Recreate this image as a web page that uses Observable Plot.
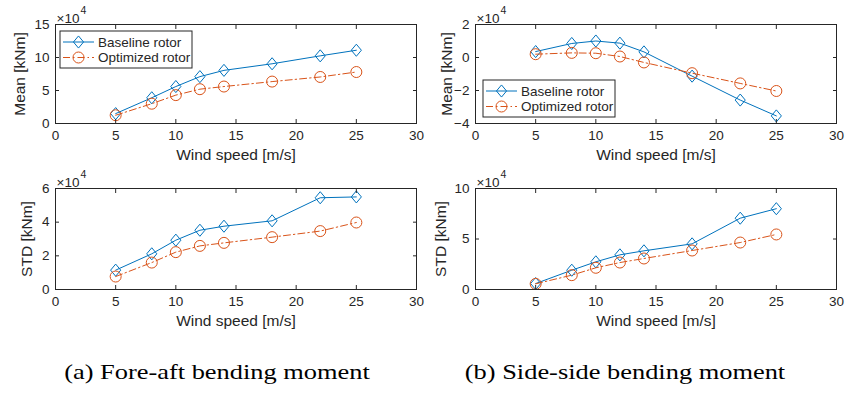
<!DOCTYPE html>
<html><head><meta charset="utf-8">
<script src="https://cdn.jsdelivr.net/npm/d3@7"></script>
<script src="https://cdn.jsdelivr.net/npm/@observablehq/plot@0.6"></script>
<style>
body{margin:0;background:#fff;}
#root{position:relative;width:847px;height:393px;overflow:hidden;background:#fff;}
.caption{position:absolute;top:359px;font-family:"Liberation Serif","DejaVu Serif",serif;font-size:22px;color:#000;white-space:nowrap;transform:translateX(-50%) scaleX(1.2);transform-origin:50% 50%;}
</style></head><body><div id="root"></div>
<script>
// ---- data (values in units of 10^4 kNm) ----
const windSpeed = [5, 8, 10, 12, 14, 18, 22, 25];
const faMeanBaseline  = [1.5, 3.9, 5.6, 7.1, 8.05, 9.05, 10.25, 11.1];
const faMeanOptimized = [1.25, 3.0, 4.3, 5.2, 5.6, 6.35, 7.05, 7.8];
const ssMeanBaseline  = [0.36, 0.85, 1.0, 0.87, 0.34, -1.13, -2.58, -3.54];
const ssMeanOptimized = [0.2, 0.28, 0.26, 0.06, -0.3, -0.95, -1.57, -2.03];
const faStdBaseline   = [1.15, 2.12, 2.93, 3.52, 3.76, 4.08, 5.45, 5.5];
const faStdOptimized  = [0.77, 1.6, 2.22, 2.59, 2.77, 3.11, 3.47, 3.98];
const ssStdBaseline   = [0.59, 1.91, 2.74, 3.43, 3.83, 4.52, 7.06, 8.0];
const ssStdOptimized  = [0.56, 1.42, 2.15, 2.67, 3.07, 3.86, 4.65, 5.45];
const seriesNames = ["Baseline rotor", "Optimized rotor"];
const xTicks = [0, 5, 10, 15, 20, 25, 30];
const yTicksFaMean = [0, 5, 10, 15];
const yTicksSsMean = [-4, -2, 0, 2];
const yTicksFaStd = [0, 2, 4, 6];
const yTicksSsStd = [0, 5, 10];
const xLabel = "Wind speed [m/s]";
const yLabels = ["Mean [kNm]", "STD [kNm]"];
const exponentLabel = ["×10", "4"];
const captions = ["(a) Fore-aft bending moment", "(b) Side-side bending moment"];

// ---- styling ----
const BLUE = "#0072BD", ORANGE = "#D95319", INK = "#262626";
const FONT = "'Liberation Sans', Arial, Helvetica, sans-serif";
const DASHDOT = "7,3,1.5,3";
const diamond = {
  draw(ctx, size) {
    const r = Math.sqrt(size / Math.PI);
    const w = r * 0.92, h = r * 1.1;
    ctx.moveTo(0, -h); ctx.lineTo(w, 0); ctx.lineTo(0, h); ctx.lineTo(-w, 0); ctx.closePath();
  }
};

const root = document.getElementById("root");

function rows(arr) { return windSpeed.map((w, i) => ({w, v: arr[i]})); }

function panel({left, top, width, height, mt, fh, yDomain, yTicks, yLabel, labelDx, base, opt, legend}) {
  const b = rows(base), o = rows(opt);
  const svg = Plot.plot({
    width, height,
    marginLeft: 55, marginRight: width - 55 - 361, marginTop: mt, marginBottom: height - mt - fh,
    style: {fontFamily: FONT, color: INK, background: "transparent", overflow: "visible"},
    x: {domain: [0, 30]},
    y: {domain: yDomain},
    marks: [
      Plot.line(b, {x: "w", y: "v", stroke: BLUE, strokeWidth: 1}),
      Plot.dot(b, {x: "w", y: "v", stroke: BLUE, fill: "none", symbol: diamond, r: 5.5, strokeWidth: 1}),
      Plot.line(o, {x: "w", y: "v", stroke: ORANGE, strokeWidth: 1, strokeDasharray: DASHDOT}),
      Plot.dot(o, {x: "w", y: "v", stroke: ORANGE, fill: "none", symbol: "circle", r: 5.5, strokeWidth: 1}),
      Plot.axisX(xTicks, {anchor: "bottom", tickSize: -4, tickPadding: 11, fontSize: 13.5, label: null, stroke: INK}),
      Plot.axisX(xTicks, {anchor: "top", tickSize: -4, tickFormat: () => "", label: null, stroke: INK}),
      Plot.axisY(yTicks, {anchor: "left", tickSize: -4, tickPadding: 10, fontSize: 13.5, label: null, stroke: INK}),
      Plot.axisY(yTicks, {anchor: "right", tickSize: -4, tickFormat: () => "", label: null, stroke: INK}),
      Plot.frame({stroke: INK, strokeWidth: 1}),
      Plot.text([xLabel], {frameAnchor: "bottom", dy: 36, fontSize: 15.5, fill: INK}),
      Plot.text([yLabel], {frameAnchor: "left", dx: labelDx, rotate: -90, textAnchor: "middle", fontSize: 15.5, fill: INK}),
      Plot.text([exponentLabel[0]], {frameAnchor: "top-left", dy: -11, dx: 1, textAnchor: "start", fontSize: 13.5, fill: INK}),
      Plot.text([exponentLabel[1]], {frameAnchor: "top-left", dy: -18, dx: 25, textAnchor: "start", fontSize: 10.5, fill: INK})
    ]
  });
  svg.style.position = "absolute";
  svg.style.left = left + "px";
  svg.style.top = top + "px";
  root.appendChild(svg);
  if (legend) drawLegend(d3.select(svg), legend[0], legend[1]);
}

function drawLegend(sel, x0, y0) {
  const g = sel.append("g").attr("font-family", FONT).attr("font-size", 13.5).attr("text-anchor", "start");
  g.append("rect").attr("x", x0).attr("y", y0).attr("width", 132).attr("height", 37)
    .attr("fill", "#fff").attr("stroke", INK).attr("stroke-width", 1);
  const specs = [
    {name: seriesNames[0], color: BLUE, dash: "none", sym: d3.symbol(diamond, Math.PI * 5.5 * 5.5)},
    {name: seriesNames[1], color: ORANGE, dash: DASHDOT, sym: d3.symbol(d3.symbolCircle, Math.PI * 5.5 * 5.5)}
  ];
  specs.forEach((s, i) => {
    const y = y0 + 11 + i * 15.5;
    g.append("line").attr("x1", x0 + 3).attr("x2", x0 + 34).attr("y1", y).attr("y2", y)
      .attr("stroke", s.color).attr("stroke-width", 1).attr("stroke-dasharray", s.dash).attr("fill", "none");
    g.append("path").attr("d", s.sym()).attr("transform", `translate(${x0 + 18.5},${y})`)
      .attr("fill", "none").attr("stroke", s.color).attr("stroke-width", 1);
    g.append("text").attr("x", x0 + 38).attr("y", y).attr("dy", "0.35em").attr("fill", INK).text(s.name);
  });
}

panel({left: 0, top: 0, width: 420, height: 165, mt: 24, fh: 99, yDomain: [0, 15], yTicks: yTicksFaMean, yLabel: yLabels[0], labelDx: -35, base: faMeanBaseline, opt: faMeanOptimized, legend: [60, 31]});
panel({left: 420, top: 0, width: 425, height: 165, mt: 24, fh: 99, yDomain: [-4, 2], yTicks: yTicksSsMean, yLabel: yLabels[0], labelDx: -28, base: ssMeanBaseline, opt: ssMeanOptimized, legend: [63, 80]});
panel({left: 0, top: 165, width: 420, height: 165, mt: 23, fh: 101, yDomain: [0, 6], yTicks: yTicksFaStd, yLabel: yLabels[1], labelDx: -28, base: faStdBaseline, opt: faStdOptimized});
panel({left: 420, top: 165, width: 425, height: 165, mt: 23, fh: 101, yDomain: [0, 10], yTicks: yTicksSsStd, yLabel: yLabels[1], labelDx: -34, base: ssStdBaseline, opt: ssStdOptimized});

[[217, captions[0]], [625, captions[1]]].forEach(([cx, t]) => {
  const d = document.createElement("div");
  d.className = "caption";
  d.style.left = cx + "px";
  d.textContent = t;
  root.appendChild(d);
});
</script></body></html>
